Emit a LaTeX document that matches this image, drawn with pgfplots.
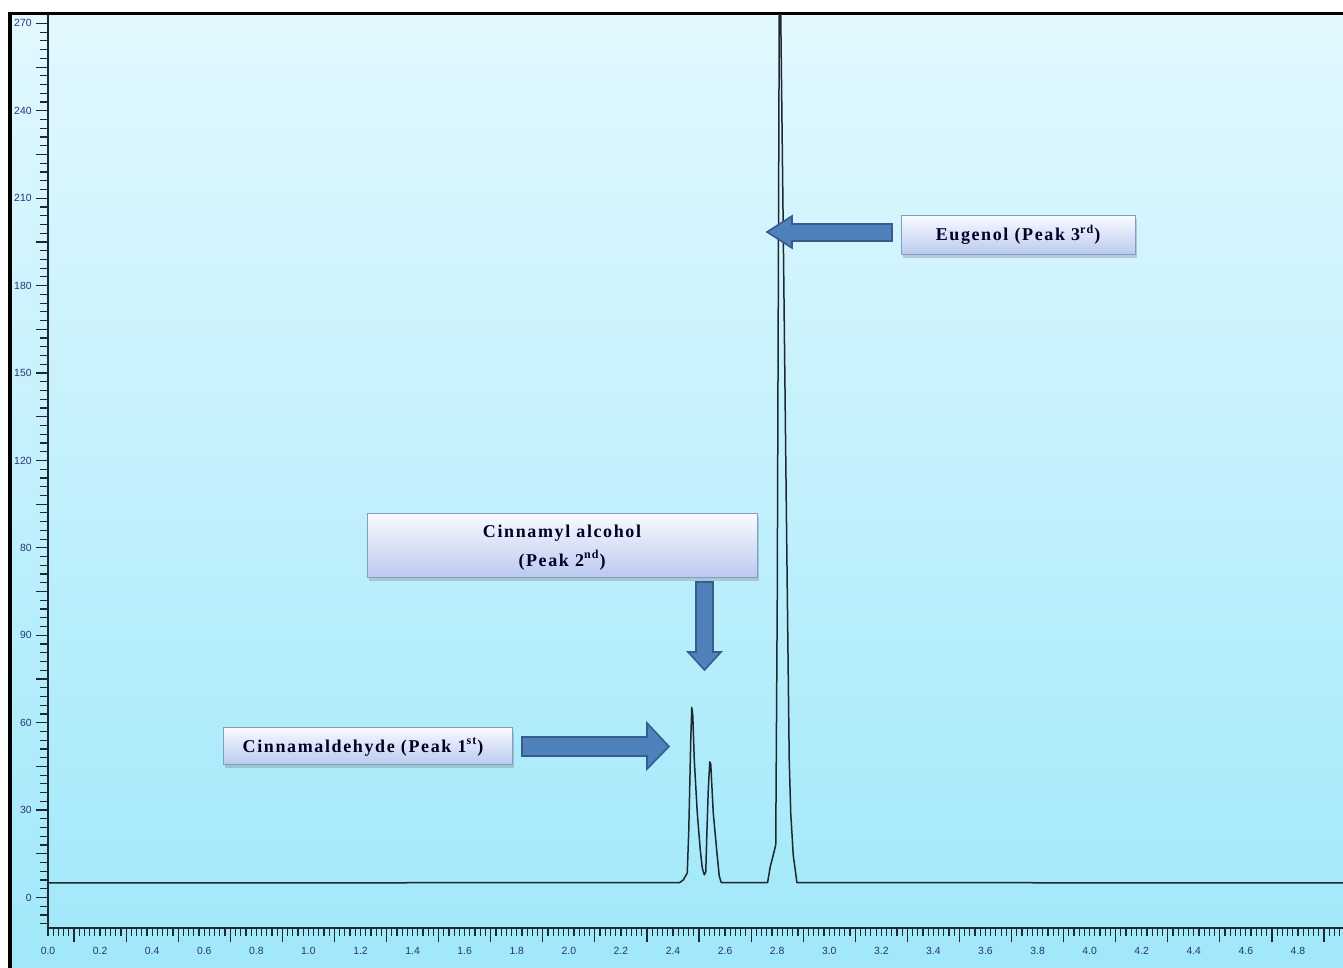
\documentclass[border=0pt]{standalone}
\usepackage{pgfplots}
\pgfplotsset{compat=1.18}
\usepackage{fontspec}
\setmainfont{Liberation Serif}
\newfontfamily\ticksf{Liberation Sans}
\newfontfamily\lblfont[LetterSpace=9]{Liberation Serif}
\usetikzlibrary{shadows}

\definecolor{bgtop}{RGB}{226,248,254}
\definecolor{bgbot}{RGB}{160,232,250}
\definecolor{axcol}{RGB}{30,40,48}
\definecolor{tickcol}{RGB}{40,52,120}
\definecolor{arrfill}{RGB}{79,129,189}
\definecolor{arrdraw}{RGB}{56,93,138}
\definecolor{boxtop}{RGB}{248,250,255}
\definecolor{boxbot}{RGB}{185,201,238}
\definecolor{boxdraw}{RGB}{130,155,200}

\begin{document}
\begin{tikzpicture}[x=0.5pt,y=0.5pt]
\path[use as bounding box] (0,0) rectangle (1343,968);
\fill[white] (0,0) rectangle (1343,968);
\shade[top color=bgtop,bottom color=bgbot] (12,0) rectangle (1343,953);
\fill[black] (8,0) rectangle (12,956);
\fill[black] (8,953) rectangle (1343,956);

\begin{axis}[
  at={(24pt,20pt)}, anchor=south west,
  scale only axis, width=647.5pt, height=456.5pt,
  xmin=0, xmax=4.973, ymin=-9.42, ymax=272.6,
  axis x line=bottom, axis y line=left,
  axis line style={-, line width=1pt, color=axcol},
  tick align=outside,
  tick style={color=axcol, line width=0.6pt},
  major tick length=7pt, minor tick length=4pt,
  y tick style={/pgfplots/major tick length=6pt},
  xtick={0.1,0.3,...,4.9}, xticklabels={},
  extra x ticks={0,0.2,...,4.8},
  extra x tick labels={0.0,0.2,0.4,0.6,0.8,1.0,1.2,1.4,1.6,1.8,2.0,2.2,2.4,2.6,2.8,3.0,3.2,3.4,3.6,3.8,4.0,4.2,4.4,4.6,4.8},
  extra x tick style={/pgfplots/major tick length=4pt},
  minor xtick={0,0.02,...,4.96},
  ytick={0,13.5,...,270},
  yticklabels={0,,30,,60,,90,,80,,120,,150,,180,,210,,240,,270},
  minor ytick={-8.1,-5.4,...,270},
  tick label style={font=\ticksf\fontsize{5.2}{6}\selectfont, text=tickcol},
  x tick label style={yshift=-2pt},
  y tick label style={inner sep=1pt},
  clip=true,
]
\addplot[color=axcol, line width=0.75pt, line join=round] coordinates {
(0,4.5) (2.4253,4.6) (2.4395,5.4) (2.4549,7.6) (2.4607,20.9) (2.4683,48.7)
(2.4722,58.7) (2.476,56.3) (2.4818,42.5) (2.4933,26.1) (2.5048,14.7)
(2.5125,9.1) (2.5202,7.0) (2.5259,7.9) (2.5305,20.9) (2.5355,33.2)
(2.5413,41.9) (2.5451,41.2) (2.5547,26.1) (2.5689,13.7) (2.5777,6.6)
(2.5854,4.6) (2.7632,4.6) (2.7735,9.5) (2.785,13.1) (2.7946,16.2)
(2.8004,91.9) (2.8081,273) (2.8138,273) (2.8234,206.2) (2.8349,122.8)
(2.8464,42.5) (2.8522,26.1) (2.8618,13.1) (2.876,4.6) (4.973,4.5)
};
\end{axis}

\tikzset{
  box/.style={draw=boxdraw, line width=0.5pt, top color=boxtop, bottom color=boxbot,
    drop shadow={shadow xshift=1pt, shadow yshift=-1.5pt, opacity=0.35}},
  arr/.style={fill=arrfill, draw=arrdraw, line width=0.8pt, line join=miter},
  lbl/.style={font=\lblfont\bfseries\fontsize{9}{13.5}\selectfont, text=black!85!blue, inner sep=0pt},
}
% Eugenol
\draw[arr] (892,744) -- (792,744) -- (792,752) -- (767,736) -- (792,720) -- (792,727) -- (892,727) -- cycle;
\path[box] (901,752) rectangle (1135,713);
\node[lbl] at (1018,733) {Eugenol (Peak 3\textsuperscript{rd})};
% Cinnamyl alcohol
\path[box] (367,454) rectangle (757,390);
\node[lbl] at (562,435) {Cinnamyl alcohol};
\node[lbl] at (562,408) {(Peak 2\textsuperscript{nd})};
\draw[arr] (696,386) -- (713,386) -- (713,316) -- (721,316) -- (704.5,298) -- (688,316) -- (696,316) -- cycle;
% Cinnamaldehyde
\path[box] (223,240) rectangle (512,203);
\node[lbl] at (363,221) {Cinnamaldehyde (Peak 1\textsuperscript{st})};
\draw[arr] (522,231) -- (647,231) -- (647,245) -- (669,221.5) -- (647,199) -- (647,212) -- (522,212) -- cycle;
\end{tikzpicture}
\end{document}
